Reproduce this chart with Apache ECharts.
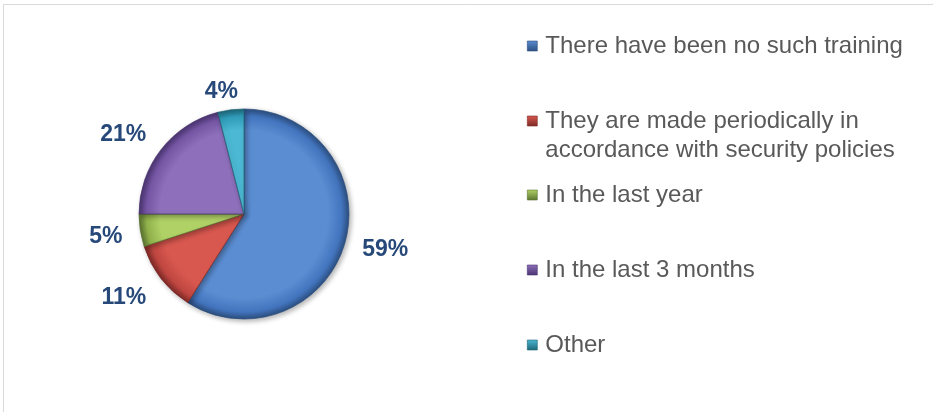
<!DOCTYPE html>
<html>
<head>
<meta charset="utf-8">
<script src="https://cdn.jsdelivr.net/npm/echarts@6/dist/echarts.min.js"></script>
<style>
  html, body { margin: 0; padding: 0; background: #ffffff; }
  #chart { width: 933px; height: 412px; }
</style>
</head>
<body>
<div id="chart"></div>
<script>
// Survey answers and their shares (percent)
const categories = [
  'There have been no such training',
  'They are made periodically in\naccordance with security policies',
  'In the last year',
  'In the last 3 months',
  'Other'
];
const shares = [59, 11, 5, 21, 4];

// Slice colours: [centre, rim, outline]
const palette = [
  ['#5b8dd2', '#4375bf', '#2c4f80'],
  ['#d8584f', '#bf4640', '#7e2a27'],
  ['#b0d166', '#8fb04a', '#5b7430'],
  ['#8e6fbb', '#7455a3', '#4a3470'],
  ['#4cb8d3', '#2f9bb8', '#1d6577']
];

// Small per-slice nudges for the percentage labels, [dx, dy]
const labelNudge = [[0, 2], [0, 10], [0, 4], [0, -6], [12, -3]];

const cx = 244, cy = 214, radius = 105;

const chart = echarts.init(document.getElementById('chart'), null, { renderer: 'canvas' });

function sliceFill(p) {
  return new echarts.graphic.RadialGradient(cx, cy, radius, [
    { offset: 0, color: p[0] },
    { offset: 0.8, color: p[0] },
    { offset: 0.93, color: p[1] },
    { offset: 1, color: p[2] }
  ], true);
}

function markerFill(p) {
  return new echarts.graphic.LinearGradient(0, 0, 0, 1, [
    { offset: 0, color: p[0] },
    { offset: 1, color: p[2] }
  ]);
}

// One legend block per entry; the marker sits beside the first text line
const LINE = 29;
const legendTops = [46, 121, 195, 270, 345];
const legends = categories.map((name, i) => {
  const twoLine = name.indexOf('\n') >= 0;
  return {
    orient: 'vertical',
    left: 527,
    // a blank leading line keeps the marker level with the first line of a wrapped entry
    top: legendTops[i] - LINE / 2 - (twoLine ? LINE : 0),
    icon: 'rect',
    itemWidth: 10,
    itemHeight: 10,
    itemGap: 0,
    padding: 0,
    selectedMode: false,
    formatter: twoLine ? (n) => ' \n' + n : '{name}',
    data: [{
      name: name,
      itemStyle: { color: markerFill(palette[i]), borderColor: palette[i][2], borderWidth: 0.6 }
    }],
    textStyle: {
      fontFamily: 'Liberation Sans, Arial, sans-serif',
      fontSize: 24,
      color: '#595959',
      lineHeight: LINE,
      padding: [0, 0, 0, 3]
    }
  };
});

chart.setOption({
  backgroundColor: '#ffffff',
  animation: false,
  legend: legends,
  graphic: [{
    type: 'rect',
    shape: { x: 3.5, y: 4.5, width: 960, height: 440 },
    style: { fill: null, stroke: '#d9d9d9', lineWidth: 1 },
    silent: true
  }],
  series: [{
    type: 'pie',
    center: [cx, cy],
    radius: radius,
    startAngle: 90,
    clockwise: true,
    avoidLabelOverlap: false,
    data: categories.map((name, i) => ({
      name: name,
      value: shares[i],
      label: { offset: labelNudge[i] },
      itemStyle: {
        color: sliceFill(palette[i]),
        borderColor: palette[i][2],
        borderWidth: 0.7,
        shadowBlur: 5,
        shadowOffsetX: 2,
        shadowOffsetY: 2,
        shadowColor: 'rgba(0,0,0,0.3)'
      }
    })),
    label: {
      show: true,
      position: 'outside',
      formatter: '{c}%',
      fontFamily: 'Liberation Sans, Arial, sans-serif',
      fontSize: 23,
      fontWeight: 'bold',
      color: '#27497a',
      distanceToLabelLine: 3
    },
    labelLine: { show: false, length: 15, length2: 0 },
    emphasis: { disabled: true }
  }]
});
</script>
</body>
</html>
